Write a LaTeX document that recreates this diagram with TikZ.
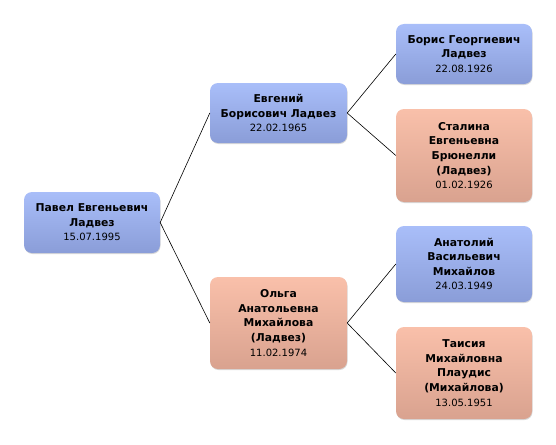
\documentclass[tikz,border=0pt]{standalone}
\usepackage{fontspec}
\setmainfont{DejaVu Sans}
\usetikzlibrary{shadows}
\definecolor{bluetop}{HTML}{A9BEF9}
\definecolor{bluebot}{HTML}{8A9DD8}
\definecolor{pinktop}{HTML}{F9C0AA}
\definecolor{pinkbot}{HTML}{D9A28F}
\tikzset{
  person/.style={rounded corners=8pt, inner sep=0pt, align=center,
    font=\fontsize{10.8}{14.6}\selectfont,
    drop shadow={shadow xshift=0.5pt, shadow yshift=-1pt, opacity=0.25, fill=black!60}},
  male/.style={person, top color=bluetop, bottom color=bluebot},
  female/.style={person, top color=pinktop, bottom color=pinkbot},
  link/.style={draw=black, line width=0.6pt}
}
\newcommand{\pdate}[1]{{\fontsize{10}{12}\selectfont #1}}
\begin{document}
\begin{tikzpicture}[x=1pt,y=-1pt]
\useasboundingbox (0,0) rectangle (556,444);
\node[male, minimum width=136pt, minimum height=61pt] (root) at (92,222.5)
  {\textbf{Павел Евгеньевич}\\\textbf{Ладвез}\\\pdate{15.07.1995}};
\node[male, minimum width=137pt, minimum height=60pt] (father) at (278.5,113)
  {\textbf{Евгений}\\\textbf{Борисович Ладвез}\\\pdate{22.02.1965}};
\node[female, minimum width=137pt, minimum height=92pt] (mother) at (278.5,323)
  {\textbf{Ольга}\\\textbf{Анатольевна}\\\textbf{Михайлова}\\\textbf{(Ладвез)}\\\pdate{11.02.1974}};
\node[male, minimum width=136pt, minimum height=60pt] (boris) at (464,54)
  {\textbf{Борис Георгиевич}\\\textbf{Ладвез}\\\pdate{22.08.1926}};
\node[female, minimum width=136pt, minimum height=93pt] (stalina) at (464,155.5)
  {\textbf{Сталина}\\\textbf{Евгеньевна}\\\textbf{Брюнелли}\\\textbf{(Ладвез)}\\\pdate{01.02.1926}};
\node[male, minimum width=136pt, minimum height=76pt] (anatoliy) at (464,264)
  {\textbf{Анатолий}\\\textbf{Васильевич}\\\textbf{Михайлов}\\\pdate{24.03.1949}};
\node[female, minimum width=136pt, minimum height=92pt] (taisia) at (464,373)
  {\textbf{Таисия}\\\textbf{Михайловна}\\\textbf{Плаудис}\\\textbf{(Михайлова)}\\\pdate{13.05.1951}};
\draw[link] (father.west) -- (root.east) -- (mother.west);
\draw[link] (boris.west) -- (father.east) -- (stalina.west);
\draw[link] (anatoliy.west) -- (mother.east) -- (taisia.west);
\end{tikzpicture}
\end{document}
